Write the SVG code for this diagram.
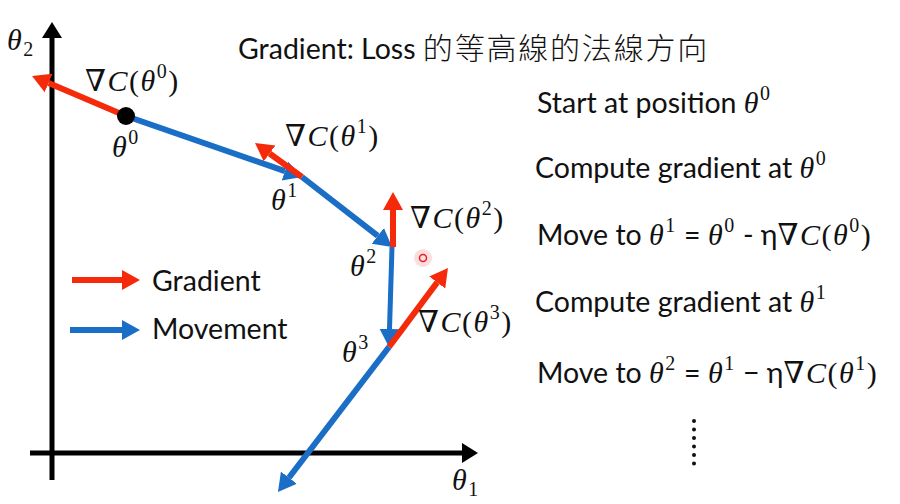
<svg xmlns="http://www.w3.org/2000/svg" width="900" height="504" viewBox="0 0 900 504">
<style>
.txt{font-family:Lato,"Noto Sans CJK TC",sans-serif;font-size:28.5px;fill:#111}
.cjk{font-family:"Noto Sans CJK TC",sans-serif;font-size:30px;letter-spacing:1.8px;font-weight:300}
.m{font-family:"Liberation Serif","DejaVu Serif",serif;font-style:italic;font-size:30px;fill:#111;letter-spacing:1.5px}
.sup{font-style:normal;font-size:20px}
.up{font-style:normal}
.red{stroke:#f52a0a;stroke-width:6;fill:none}
.blue{stroke:#1a6ec6;stroke-width:6;fill:none}
.axis{stroke:#000;stroke-width:5;fill:none}
</style>
<defs>
<marker id="hr" markerUnits="userSpaceOnUse" markerWidth="20" markerHeight="22" refX="0" refY="11" orient="auto"><path d="M0,1 L18,11 L0,21 z" fill="#f52a0a"/></marker>
<marker id="hb" markerUnits="userSpaceOnUse" markerWidth="20" markerHeight="22" refX="0" refY="11" orient="auto"><path d="M0,1 L18,11 L0,21 z" fill="#1a6ec6"/></marker>
<marker id="hk" markerUnits="userSpaceOnUse" markerWidth="20" markerHeight="22" refX="0" refY="11" orient="auto"><path d="M0,1 L16,11 L0,21 z" fill="#000"/></marker>
</defs>
<rect width="900" height="504" fill="#fff"/>
<g id="axes">
<line class="axis" x1="52" y1="480" x2="52" y2="38" marker-end="url(#hk)"/>
<line class="axis" x1="30" y1="453" x2="462" y2="453" marker-end="url(#hk)"/>
<text class="m" x="7" y="50">θ<tspan class="sup" dy="6">2</tspan></text>
<text class="m" x="452" y="490">θ<tspan class="sup" dy="6">1</tspan></text>
</g>
<g id="connectors">
<line class="red" x1="126" y1="116" x2="48.6" y2="83" marker-end="url(#hr)"/>
<line class="blue" x1="126" y1="116" x2="285" y2="171.1" marker-end="url(#hb)"/>
<line class="red" x1="302" y1="177" x2="269.6" y2="153.5" marker-end="url(#hr)"/>
<line class="blue" x1="302" y1="177" x2="377.8" y2="235.9" marker-end="url(#hb)"/>
<line class="red" x1="393" y1="247" x2="393" y2="210" marker-end="url(#hr)"/>
<line class="blue" x1="392" y1="247" x2="389.5" y2="329" marker-end="url(#hb)" style="stroke-width:5"/>
<line class="red" x1="389" y1="347" x2="437.2" y2="282.4" marker-end="url(#hr)"/>
<line class="blue" x1="389" y1="347" x2="288.9" y2="477.7" marker-end="url(#hb)"/>
</g>
<g id="theta0">
<circle cx="126" cy="116" r="9" fill="#000"/>
<text class="m" x="112" y="157">θ<tspan class="sup" dy="-13">0</tspan></text>
<text class="m" x="85" y="91">∇C<tspan class="up">(</tspan>θ<tspan class="sup" dy="-13">0</tspan><tspan class="up" dy="13">)</tspan></text>
</g>
<g id="theta1">
<text class="m" x="271" y="210">θ<tspan class="sup" dy="-13">1</tspan></text>
<text class="m" x="285" y="146">∇C<tspan class="up">(</tspan>θ<tspan class="sup" dy="-13">1</tspan><tspan class="up" dy="13">)</tspan></text>
</g>
<g id="theta2">
<text class="m" x="350" y="276">θ<tspan class="sup" dy="-13">2</tspan></text>
<text class="m" x="410" y="228">∇C<tspan class="up">(</tspan>θ<tspan class="sup" dy="-13">2</tspan><tspan class="up" dy="13">)</tspan></text>
</g>
<g id="theta3">
<text class="m" x="342" y="362">θ<tspan class="sup" dy="-13">3</tspan></text>
<text class="m" x="418" y="332">∇C<tspan class="up">(</tspan>θ<tspan class="sup" dy="-13">3</tspan><tspan class="up" dy="13">)</tspan></text>
</g>
<g id="legend">
<line class="red" x1="72" y1="280" x2="122" y2="280" marker-end="url(#hr)"/>
<text class="txt" x="152" y="291">Gradient</text>
<line class="blue" x1="70" y1="330" x2="122" y2="330" marker-end="url(#hb)"/>
<text class="txt" x="152" y="339">Movement</text>
</g>
<g id="title">
<text class="txt" x="238" y="59">Gradient: Loss <tspan class="cjk">的等高線的法線方向</tspan></text>
</g>
<g id="steps">
<text class="txt" x="537" y="113">Start at position <tspan class="m">θ<tspan class="sup" dy="-13">0</tspan></tspan></text>
<text class="txt" x="535" y="178">Compute gradient at <tspan class="m">θ<tspan class="sup" dy="-13">0</tspan></tspan></text>
<text class="txt" x="537" y="245">Move to <tspan class="m">θ<tspan class="sup" dy="-13">1</tspan></tspan><tspan dy="13"> = </tspan><tspan class="m">θ<tspan class="sup" dy="-13">0</tspan></tspan><tspan dy="13"> - η</tspan><tspan class="m">∇C<tspan class="up">(</tspan>θ<tspan class="sup" dy="-13">0</tspan><tspan class="up" dy="13">)</tspan></tspan></text>
<text class="txt" x="535" y="312">Compute gradient at <tspan class="m">θ<tspan class="sup" dy="-13">1</tspan></tspan></text>
<text class="txt" x="537" y="383">Move to <tspan class="m">θ<tspan class="sup" dy="-13">2</tspan></tspan><tspan dy="13"> = </tspan><tspan class="m">θ<tspan class="sup" dy="-13">1</tspan></tspan><tspan dy="13"> − η</tspan><tspan class="m">∇C<tspan class="up">(</tspan>θ<tspan class="sup" dy="-13">1</tspan><tspan class="up" dy="13">)</tspan></tspan></text>
<g fill="#111">
<circle cx="694" cy="421" r="2"/><circle cx="694" cy="429.5" r="2"/><circle cx="694" cy="438" r="2"/><circle cx="694" cy="446.5" r="2"/><circle cx="694" cy="455" r="2"/><circle cx="694" cy="463.5" r="2"/>
</g>
</g>
<g id="pointer">
<circle cx="423" cy="258" r="9" fill="#f7a0a0" opacity="0.35"/>
<circle cx="423" cy="258" r="3.5" fill="none" stroke="#e8202a" stroke-width="1.5"/>
</g>
</svg>
